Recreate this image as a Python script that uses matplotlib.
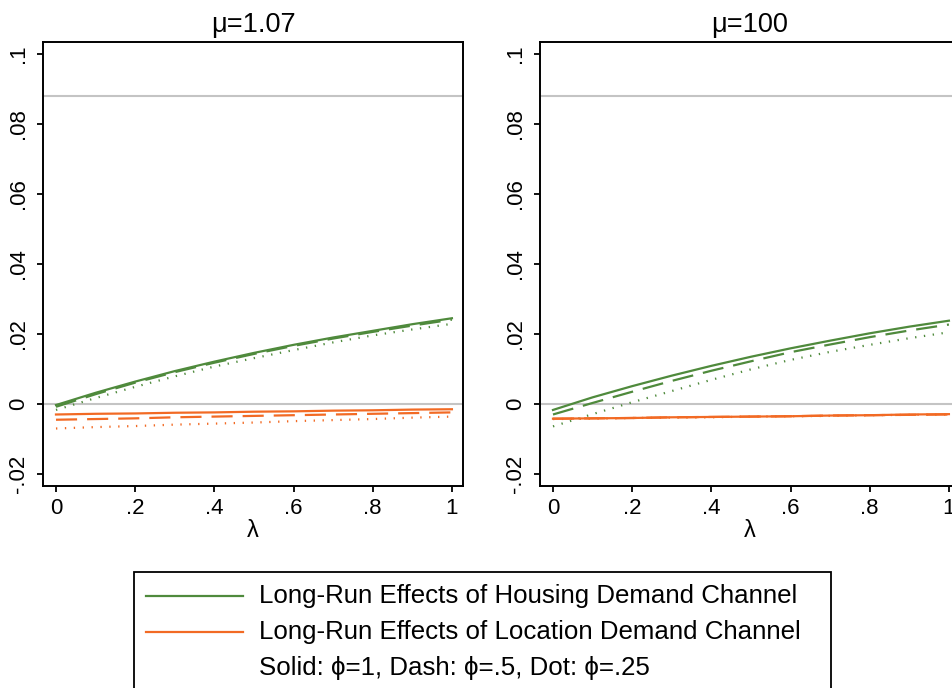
import matplotlib
matplotlib.use("Agg")
import matplotlib.pyplot as plt
from matplotlib.lines import Line2D
from matplotlib.patches import Rectangle

plt.rcParams['font.family'] = ['Liberation Sans', 'DejaVu Sans']

# lambda grid and read-off values
lam = [0, .1, .2, .3, .4, .5, .6, .7, .8, .9, 1]

# mu = 1.07
h1_solid = [-0.0003, 0.0032, 0.0064, 0.0094, 0.0121, 0.0146, 0.0169, 0.0190, 0.0209, 0.0228, 0.0245]
h1_dash = [-0.0008, 0.0028, 0.0061, 0.0091, 0.0118, 0.0143, 0.0166, 0.0187, 0.0206, 0.0224, 0.0241]
h1_dot = [-0.0017, 0.0017, 0.0049, 0.0079, 0.0107, 0.0131, 0.0154, 0.0176, 0.0196, 0.0213, 0.0229]
l1_solid = [-0.0030, -0.0028, -0.0027, -0.0025, -0.0024, -0.0022, -0.0021, -0.0019, -0.0018, -0.0016, -0.0015]
l1_dash = [-0.0045, -0.0043, -0.0041, -0.0038, -0.0036, -0.0034, -0.0032, -0.0030, -0.0028, -0.0026, -0.0024]
l1_dot = [-0.0070, -0.0066, -0.0063, -0.0059, -0.0056, -0.0053, -0.0049, -0.0046, -0.0043, -0.0039, -0.0036]

# mu = 100
h2_solid = [-0.0017, 0.0019, 0.0051, 0.0081, 0.0109, 0.0135, 0.0159, 0.0181, 0.0202, 0.0221, 0.0238]
h2_dash = [-0.0030, 0.0003, 0.0035, 0.0066, 0.0095, 0.0122, 0.0148, 0.0170, 0.0191, 0.0210, 0.0227]
h2_dot = [-0.0064, -0.0029, 0.0005, 0.0037, 0.0069, 0.0099, 0.0126, 0.0149, 0.0169, 0.0188, 0.0205]
l2_solid = [-0.0042, -0.0041, -0.0040, -0.0038, -0.0037, -0.0036, -0.0035, -0.0033, -0.0032, -0.0030, -0.0029]
l2_dash = [-0.0042, -0.0041, -0.0040, -0.0038, -0.0037, -0.0036, -0.0035, -0.0033, -0.0032, -0.0031, -0.0030]
l2_dot = [-0.0043, -0.0042, -0.0040, -0.0039, -0.0038, -0.0036, -0.0035, -0.0034, -0.0032, -0.0031, -0.0030]

titles = ['\u03bc=1.07', '\u03bc=100']
ref_lines = [0, 0.088]
xticks = [0, .2, .4, .6, .8, 1]
xtick_labels = ['0', '.2', '.4', '.6', '.8', '1']
yticks = [-.02, 0, .02, .04, .06, .08, .1]
ytick_labels = ['-.02', '0', '.02', '.04', '.06', '.08', '.1']
legend_labels = ['Long-Run Effects of Housing Demand Channel',
                 'Long-Run Effects of Location Demand Channel',
                 'Solid: \u03d5=1, Dash: \u03d5=.5, Dot: \u03d5=.25']

green = '#4F8A3C'
orange = '#F26A24'
grey = '#C4C4C4'

W, H = 952, 688
fig = plt.figure(figsize=(W / 100, H / 100), dpi=100)

def px(x0, y_top, w, h):
    return [x0 / W, 1 - (y_top + h) / H, w / W, h / H]

panels = [
    (px(43, 42, 420, 444), [h1_solid, h1_dash, h1_dot], [l1_solid, l1_dash, l1_dot]),
    (px(540, 42, 420, 444), [h2_solid, h2_dash, h2_dot], [l2_solid, l2_dash, l2_dot]),
]
styles = ['-', (0, (9.5, 4.5)), (0, (0.6, 3.4))]

for (pos, hs, ls), title in zip(panels, titles):
    ax = fig.add_axes(pos)
    for r in ref_lines:
        ax.axhline(r, color=grey, lw=1.5, zorder=1)
    for ys, st in zip(hs, styles):
        ax.plot(lam, ys, color=green, lw=1.6, linestyle=st, zorder=3)
    for ys, st in zip(ls, styles):
        ax.plot(lam, ys, color=orange, lw=1.6, linestyle=st, zorder=3)
    ax.set_xlim(-0.0328, 1.028)
    ax.set_ylim(-0.02343, 0.10343)
    ax.set_xticks(xticks)
    ax.set_xticklabels(xtick_labels)
    ax.set_yticks(yticks)
    ax.set_yticklabels(ytick_labels, rotation=90, va='center')
    ax.tick_params(axis='both', labelsize=16, length=4.5, width=1.3, color='black')
    ax.tick_params(axis='y', pad=5.5)
    ax.tick_params(axis='x', pad=4)
    for s in ax.spines.values():
        s.set_linewidth(1.4)
    ax.set_xlabel('\u03bb', fontsize=17, labelpad=1)
    ax.set_title(title, fontsize=19.5, pad=7)

# legend box drawn in pixel-based figure coordinates
fig.add_artist(Rectangle((134 / W, 1 - 720 / H), (831 - 134) / W, (720 - 572) / H,
                         transform=fig.transFigure, facecolor='white',
                         edgecolor='black', lw=1.3))
leg_y = [596, 632, 668]
for y, col in zip(leg_y[:2], [green, orange]):
    fig.add_artist(Line2D([146 / W, 243 / W], [1 - y / H, 1 - y / H],
                          transform=fig.transFigure, color=col, lw=1.6))
for y, lab in zip(leg_y, legend_labels):
    fig.text(259 / W, 1 - y / H, lab, fontsize=18.6, va='center', ha='left')

fig.savefig('out.png', dpi=100)
